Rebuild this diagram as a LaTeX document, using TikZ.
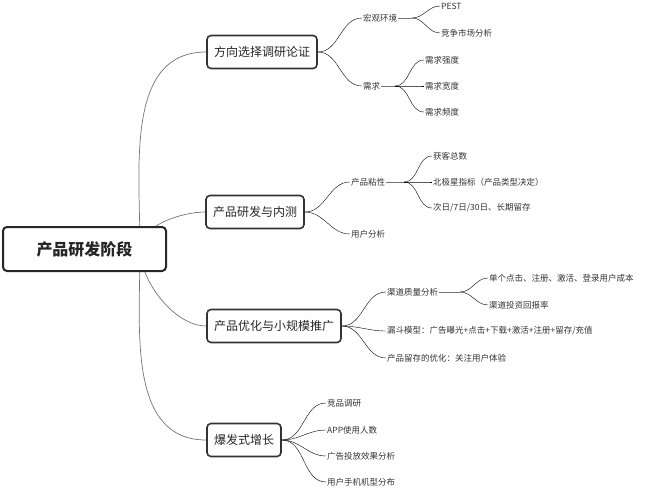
\documentclass[tikz,border=0pt]{standalone}
\usepackage{fontspec}
\setmainfont{Noto Sans CJK SC}
\begin{document}
\begin{tikzpicture}[x=1pt,y=-1pt,
  ln/.style={draw=black!55,line width=0.7pt},
  box/.style={draw=black!80,line width=1.6pt,rounded corners=4pt,fill=white,font=\fontsize{12}{14}\selectfont,text=black!85,minimum height=33pt,inner xsep=7pt},
  t/.style={anchor=west,inner sep=1pt,font=\fontsize{8.5}{10}\selectfont,text=black!80},
  cv/.style={ln,out=0,in=180}]
\useasboundingbox (0,0) rectangle (657,490);
\node[box] (b1) at (262,52) {方向选择调研论证};
\node[box] (b2) at (255,212) {产品研发与内测};
\node[box] (b3) at (274,326) {产品优化与小规模推广};
\node[box] (b4) at (244,440) {爆发式增长};
\coordinate (rc) at (140,249);
\draw[ln] (rc) to[out=90,in=180] (b1.west);
\draw[ln] (rc) to[out=90,in=180,looseness=0.8] (b2.west);
\draw[ln] (rc) to[out=-90,in=180,looseness=0.8] (b3.west);
\draw[ln] (rc) to[out=-90,in=180] (b4.west);
\node[box,draw=black!85,line width=2pt,minimum width=163pt,minimum height=44pt,font=\fontsize{16}{18}\selectfont\bfseries] (root) at (84.5,249) {产品研发阶段};
% b1
\node[t] (a1) at (362,18) {宏观环境};
\node[t] (a2) at (362,86) {需求};
\draw (b1.east) to[cv] (a1.west);
\draw (b1.east) to[cv] (a2.west);
\coordinate (p1) at (412,18);
\draw[ln] (a1.east) -- (p1);
\node[t] (a11) at (440,6) {PEST};
\node[t] (a12) at (440,33) {竞争市场分析};
\draw (p1) to[cv] (a11.west); \draw (p1) to[cv] (a12.west);
\coordinate (p2) at (395,86);
\draw[ln] (a2.east) -- (p2);
\node[t] (a21) at (424,60) {需求强度};
\node[t] (a22) at (424,86) {需求宽度};
\node[t] (a23) at (424,112) {需求频度};
\foreach \n in {a21,a22,a23} \draw (p2) to[cv] (\n.west);
% b2
\node[t] (c1) at (350,182) {产品粘性};
\node[t] (c2) at (350,234) {用户分析};
\draw (b2.east) to[cv] (c1.west); \draw (b2.east) to[cv] (c2.west);
\coordinate (p3) at (404,182);
\draw[ln] (c1.east) -- (p3);
\node[t] (c11) at (432,156) {获客总数};
\node[t] (c12) at (432,182) {北极星指标（产品类型决定）};
\node[t] (c13) at (432,208) {次日/7日/30日、长期留存};
\foreach \n in {c11,c12,c13} \draw (p3) to[cv] (\n.west);
% b3
\node[t] (d1) at (386,292) {渠道质量分析};
\node[t] (d2) at (386,331) {漏斗模型：广告曝光+点击+下载+激活+注册+留存/充值};
\node[t] (d3) at (386,358) {产品留存的优化：关注用户体验};
\foreach \n in {d1,d2,d3} \draw (b3.east) to[cv] (\n.west);
\coordinate (p4) at (460,292);
\draw[ln] (d1.east) -- (p4);
\node[t] (d11) at (488,278) {单个点击、注册、激活、登录用户成本};
\node[t] (d12) at (488,305) {渠道投资回报率};
\draw (p4) to[cv] (d11.west); \draw (p4) to[cv] (d12.west);
% b4
\node[t] (e1) at (326,403) {竞品调研};
\node[t] (e2) at (326,430) {APP使用人数};
\node[t] (e3) at (326,456) {广告投放效果分析};
\node[t] (e4) at (326,482) {用户手机机型分布};
\foreach \n in {e1,e2,e3,e4} \draw (b4.east) to[cv] (\n.west);
\end{tikzpicture}
\end{document}
